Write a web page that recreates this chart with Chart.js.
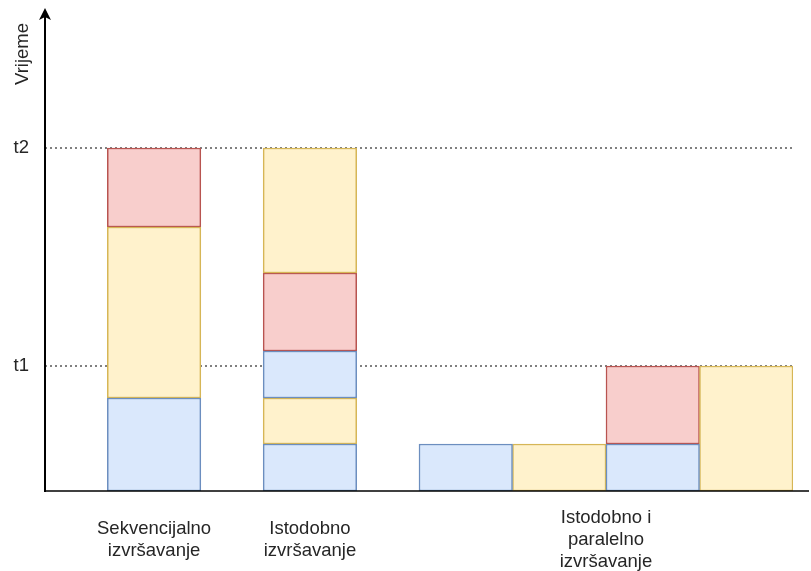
<html>
	<head>
		<meta charset="utf-8">
		<script src="https://cdn.jsdelivr.net/npm/chart.js"></script>
		<style>
			body { margin: 0; background: #fff; }
		</style>
	</head>
	<body>
		<canvas id="myChart" width="811" height="571"></canvas>

		<script>
			// Data (x in bar widths from the axis, y in time units)
			const groupLabels = [
				['Sekvencijalno', 'izvršavanje'],
				['Istodobno', 'izvršavanje'],
				['Istodobno i', 'paralelno', 'izvršavanje']
			];
			const groupLabelX = [7 / 6, 17 / 6, 6];

			const timeTicks = [12.5, 34.3];
			const timeTickLabels = ['t1', 't2'];

			const blueX    = [7 / 6, 17 / 6, 17 / 6, 4.5, 6.5];
			const blueFrom = [0, 0, 9.3, 0, 0];
			const blueTo   = [9.3, 4.7, 14.0, 4.7, 4.7];

			const yellowX    = [7 / 6, 17 / 6, 17 / 6, 5.5, 7.5];
			const yellowFrom = [9.3, 4.7, 21.8, 0, 0];
			const yellowTo   = [26.4, 9.3, 34.3, 4.7, 12.5];

			const redX    = [7 / 6, 17 / 6, 6.5];
			const redFrom = [26.4, 14.0, 4.7];
			const redTo   = [34.3, 21.8, 12.5];

			const toBars = (xs, from, to) => xs.map((x, i) => ({ x: x, y: [from[i], to[i]] }));

			const FONT = '"Liberation Sans", Arial, sans-serif';
			const TEXT = '#262626';

			// Axis lines, arrow and the axis title
			const axesPlugin = {
				id: 'axes',
				afterDraw(chart) {
					const { ctx, chartArea: a } = chart;
					ctx.save();
					ctx.strokeStyle = '#000';
					ctx.fillStyle = '#000';

					ctx.lineWidth = 1.5;
					ctx.beginPath();
					ctx.moveTo(a.left, a.bottom);
					ctx.lineTo(chart.width - 2, a.bottom);
					ctx.stroke();

					ctx.lineWidth = 2;
					ctx.beginPath();
					ctx.moveTo(a.left, a.bottom + 1);
					ctx.lineTo(a.left, a.top + 6);
					ctx.stroke();

					ctx.beginPath();
					ctx.moveTo(a.left, a.top - 2);
					ctx.lineTo(a.left - 6, a.top + 10);
					ctx.lineTo(a.left, a.top + 7);
					ctx.lineTo(a.left + 6, a.top + 10);
					ctx.closePath();
					ctx.fill();

					ctx.translate(a.left - 22, a.top + 44);
					ctx.rotate(-Math.PI / 2);
					ctx.fillStyle = TEXT;
					ctx.font = '18.5px ' + FONT;
					ctx.textAlign = 'center';
					ctx.textBaseline = 'middle';
					ctx.fillText('Vrijeme', 0, 0);
					ctx.restore();
				}
			};

			const ctx = document.getElementById('myChart');
			const chart = new Chart(ctx, {
				type: 'bar',
				data: {
					datasets: [
						{
							label: 'plavo',
							data: toBars(blueX, blueFrom, blueTo),
							backgroundColor: '#dae8fc',
							borderColor: '#6c8ebf'
						},
						{
							label: 'žuto',
							data: toBars(yellowX, yellowFrom, yellowTo),
							backgroundColor: '#fff2cc',
							borderColor: '#d6b656'
						},
						{
							label: 'crveno',
							data: toBars(redX, redFrom, redTo),
							backgroundColor: '#f8cecc',
							borderColor: '#b85450'
						}
					]
				},
				plugins: [axesPlugin],
				options: {
					responsive: false,
					animation: false,
					layout: { padding: { top: 10, right: 18, left: 0, bottom: 0 } },
					datasets: {
						bar: {
							grouped: false,
							borderWidth: 1.5,
							borderSkipped: false,
							barPercentage: 1,
							categoryPercentage: 1
						}
					},
					plugins: {
						legend: { display: false },
						tooltip: { enabled: false }
					},
					scales: {
						x: {
							type: 'linear',
							min: 0,
							max: 8,
							offset: false,
							grid: { display: false, drawTicks: false, offset: false },
							border: { display: false },
							afterBuildTicks: (scale) => {
								scale.ticks = groupLabelX.map(v => ({ value: v }));
							},
							afterFit: (scale) => {
								scale.height = 80;
								scale.paddingLeft = 0;
								scale.paddingRight = 0;
							},
							ticks: {
								autoSkip: false,
								maxRotation: 0,
								padding: 27,
								crossAlign: 'center',
								color: TEXT,
								font: { family: FONT, size: 18.5, lineHeight: 1.2 },
								callback: (value, index) => groupLabels[index]
							}
						},
						y: {
							min: 0,
							max: 48.1,
							border: { display: false, dash: [2, 3] },
							grid: {
								drawTicks: false,
								color: '#808080',
								lineWidth: 2
							},
							afterBuildTicks: (scale) => {
								scale.ticks = timeTicks.map(v => ({ value: v }));
							},
							afterFit: (scale) => {
								scale.width = 45;
								scale.paddingTop = 0;
								scale.paddingBottom = 0;
							},
							ticks: {
								padding: 16,
								color: TEXT,
								font: { family: FONT, size: 18.5 },
								callback: (value, index) => timeTickLabels[index]
							}
						}
					}
				}
			});
		</script>
	</body>
</html>
